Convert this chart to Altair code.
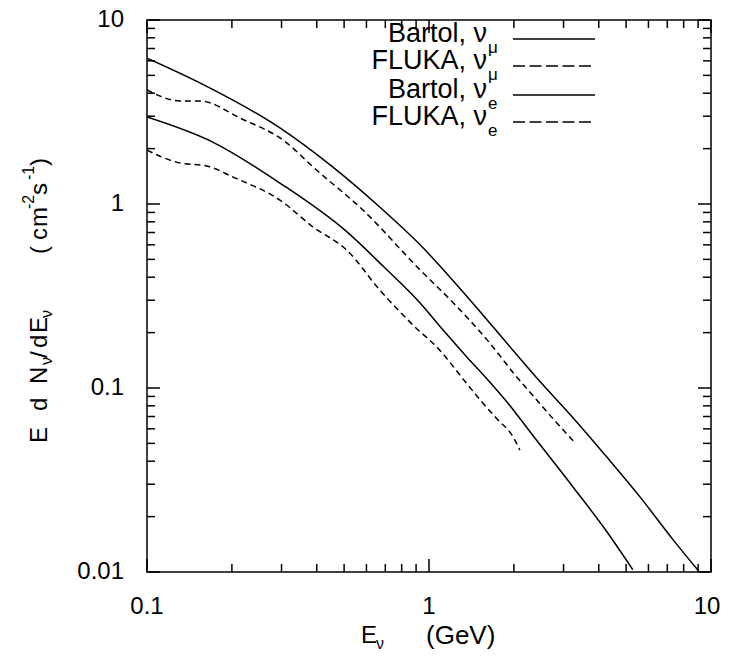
import altair as alt
import pandas as pd

# ---------------- data ----------------
bartol_mu_E = [0.1, 0.154, 0.296, 0.446, 0.67, 0.93, 1.40, 1.94, 2.48, 3.24, 4.28, 5.6, 7.33, 9.1]
bartol_mu_F = [6.2, 4.55, 2.59, 1.63, 0.96, 0.60, 0.30, 0.167, 0.108, 0.069, 0.042, 0.0256, 0.0150, 0.010]

fluka_mu_E = [0.1, 0.131, 0.154, 0.214, 0.313, 0.388, 0.583, 0.93, 1.22, 1.64, 1.99, 2.41, 2.84, 3.30]
fluka_mu_F = [4.17, 3.63, 3.63, 2.93, 2.15, 1.59, 0.927, 0.438, 0.29, 0.176, 0.121, 0.086, 0.0646, 0.0502]

bartol_e_E = [0.1, 0.171, 0.296, 0.512, 0.687, 0.93, 1.12, 1.364, 1.606, 1.89, 2.34, 3.24, 4.28, 5.28]
bartol_e_F = [2.97, 2.17, 1.30, 0.705, 0.46, 0.29, 0.207, 0.147, 0.112, 0.084, 0.055, 0.029, 0.0165, 0.0103]

fluka_e_E = [0.1, 0.131, 0.163, 0.202, 0.296, 0.388, 0.512, 0.67, 0.877, 1.09, 1.32, 1.52, 1.74, 1.99, 2.10]
fluka_e_F = [1.96, 1.67, 1.61, 1.40, 1.05, 0.75, 0.56, 0.34, 0.22, 0.161, 0.112, 0.086, 0.068, 0.054, 0.046]

series_keys = ["bartol_mu", "fluka_mu", "bartol_e", "fluka_e"]
legend_main = ["Bartol, ν", "FLUKA, ν", "Bartol, ν", "FLUKA, ν"]
legend_sub = ["μ", "μ", "e", "e"]

x_major = [0.1, 1, 10]
x_tick_labels = ["0.1", "1", "10"]
x_minor = [0.2, 0.3, 0.4, 0.5, 0.6, 0.7, 0.8, 0.9, 2, 3, 4, 5, 6, 7, 8, 9]
y_major = [0.01, 0.1, 1, 10]
y_tick_labels = ["0.01", "0.1", "1", "10"]
y_minor = [0.02, 0.03, 0.04, 0.05, 0.06, 0.07, 0.08, 0.09,
           0.2, 0.3, 0.4, 0.5, 0.6, 0.7, 0.8, 0.9,
           2, 3, 4, 5, 6, 7, 8, 9]

# ---------------- build tables ----------------
rows = []
for key, Es, Fs in [("bartol_mu", bartol_mu_E, bartol_mu_F),
                    ("fluka_mu", fluka_mu_E, fluka_mu_F),
                    ("bartol_e", bartol_e_E, bartol_e_F),
                    ("fluka_e", fluka_e_E, fluka_e_F)]:
    for i, (e, f) in enumerate(zip(Es, Fs)):
        rows.append({"series": key, "E": e, "F": f, "i": i})
df = pd.DataFrame(rows)

W, H = 564, 552
FONT = "Liberation Sans"
xs = alt.Scale(type="log", domain=[0.1, 10], nice=False)
ys = alt.Scale(type="log", domain=[0.01, 10], nice=False)

base_lines = alt.Chart(df)
solid = base_lines.transform_filter(
    alt.FieldOneOfPredicate(field="series", oneOf=["bartol_mu", "bartol_e"])
).mark_line(color="black", strokeWidth=1.5, clip=True, interpolate="monotone").encode(
    x=alt.X("E:Q", scale=xs, axis=None),
    y=alt.Y("F:Q", scale=ys, axis=None),
    detail="series:N",
    order="i:Q",
)
dashed = base_lines.transform_filter(
    alt.FieldOneOfPredicate(field="series", oneOf=["fluka_mu", "fluka_e"])
).mark_line(color="black", strokeWidth=1.5, strokeDash=[6, 4], clip=True,
            interpolate="monotone").encode(
    x=alt.X("E:Q", scale=xs, axis=None),
    y=alt.Y("F:Q", scale=ys, axis=None),
    detail="series:N",
    order="i:Q",
)

# ---------------- inward ticks on all four sides ----------------
MAJ, MIN = 13, 8
def xticks(vals, length):
    d = alt.Chart(pd.DataFrame({"v": vals}))
    bottom = d.mark_rule(color="black", strokeWidth=1.5).encode(
        x=alt.X("v:Q", scale=xs, axis=None), y=alt.value(H), y2=alt.value(H - length))
    top = d.mark_rule(color="black", strokeWidth=1.5).encode(
        x=alt.X("v:Q", scale=xs, axis=None), y=alt.value(0), y2=alt.value(length))
    return [bottom, top]

def yticks(vals, length):
    d = alt.Chart(pd.DataFrame({"v": vals}))
    left = d.mark_rule(color="black", strokeWidth=1.5).encode(
        y=alt.Y("v:Q", scale=ys, axis=None), x=alt.value(0), x2=alt.value(length))
    right = d.mark_rule(color="black", strokeWidth=1.5).encode(
        y=alt.Y("v:Q", scale=ys, axis=None), x=alt.value(W), x2=alt.value(W - length))
    return [left, right]

tick_layers = xticks(x_major, MAJ) + xticks(x_minor, MIN) + yticks(y_major, MAJ) + yticks(y_minor, MIN)

# ---------------- tick labels ----------------
xlab_df = pd.DataFrame({"v": x_major, "t": x_tick_labels})
xlab = alt.Chart(xlab_df).transform_filter("datum.v < 5").mark_text(
    align="center", baseline="middle", font=FONT, fontSize=24, color="black").encode(
    x=alt.X("v:Q", scale=xs, axis=None), y=alt.value(H + 35), text="t:N")
xlab_end = alt.Chart(xlab_df).transform_filter("datum.v >= 5").mark_text(
    align="center", baseline="middle", font=FONT, fontSize=24, color="black", dx=-4).encode(
    x=alt.X("v:Q", scale=xs, axis=None), y=alt.value(H + 35), text="t:N")
ylab = alt.Chart(pd.DataFrame({"v": y_major, "t": y_tick_labels})).mark_text(
    align="right", baseline="middle", font=FONT, fontSize=24, color="black").encode(
    y=alt.Y("v:Q", scale=ys, axis=None), x=alt.value(-23), text="t:N")

# ---------------- legend ----------------
leg_y = [19, 46, 75, 102]
leg_dash = [None, [12, 4.5], None, [12, 4.5]]
legend_layers = []
for k in range(4):
    props = dict(color="black", strokeWidth=1.5)
    if leg_dash[k]:
        props["strokeDash"] = leg_dash[k]
    legend_layers.append(
        alt.Chart(pd.DataFrame({"k": [series_keys[k]]})).mark_rule(**props).encode(
            x=alt.value(366), x2=alt.value(448), y=alt.value(leg_y[k]))
    )
leg_txt = pd.DataFrame({"t": legend_main, "px": [340] * 4, "py": [y - 5 for y in leg_y]})
leg_sub = pd.DataFrame({"t": legend_sub, "px": [341] * 4, "py": [y + 9 for y in leg_y]})
legend_layers.append(alt.Chart(leg_txt).mark_text(align="right", baseline="middle", font=FONT,
                                                  fontSize=27, color="black").encode(
    x=alt.X("px:Q", scale=None), y=alt.Y("py:Q", scale=None), text="t:N"))
legend_layers.append(alt.Chart(leg_sub).mark_text(align="left", baseline="middle", font=FONT,
                                                  fontSize=17, color="black").encode(
    x=alt.X("px:Q", scale=None), y=alt.Y("py:Q", scale=None), text="t:N"))

# ---------------- axis titles (pieces with sub/superscripts) ----------------
xt = pd.DataFrame({
    "t": ["E", "ν", "(GeV)"],
    "px": [214, 229, 279],
    "py": [616, 624, 616],
    "fs": [24, 16, 26],
})
xtitle = alt.Chart(xt).mark_text(align="left", baseline="middle", font=FONT, color="black").encode(
    x=alt.X("px:Q", scale=None), y=alt.Y("py:Q", scale=None), text="t:N",
    size=alt.Size("fs:Q", scale=None))

yt = pd.DataFrame({
    "t": ["E", "d", "N", "ν", "/", "d", "E", "ν", "(", "c", "m", "-2", "s", "-1", ")"],
    "py": [423, 391, 364, 345, 338, 328, 313, 298, 234, 220, 207, 189, 175, 160, 146],
    "px": [-107, -107, -107, -100, -107, -107, -107, -100, -107, -107, -107, -118, -107, -118, -107],
    "fs": [24, 24, 24, 16, 24, 24, 24, 16, 24, 24, 24, 16, 24, 16, 24],
})
ytitle = alt.Chart(yt).mark_text(align="left", baseline="middle", font=FONT, color="black",
                                 angle=270).encode(
    x=alt.X("px:Q", scale=None), y=alt.Y("py:Q", scale=None), text="t:N",
    size=alt.Size("fs:Q", scale=None))

chart = alt.layer(solid, dashed, *tick_layers, xlab, xlab_end, ylab, *legend_layers,
                  xtitle, ytitle).properties(
    width=W, height=H,
    autosize=alt.AutoSizeParams(type="none"),
    padding={"left": 139, "top": 12, "right": 10, "bottom": 80},
    background="white",
).configure_view(stroke="black", strokeWidth=1.5)

chart.save("out.html", embed_options={"renderer": "svg", "actions": False})
